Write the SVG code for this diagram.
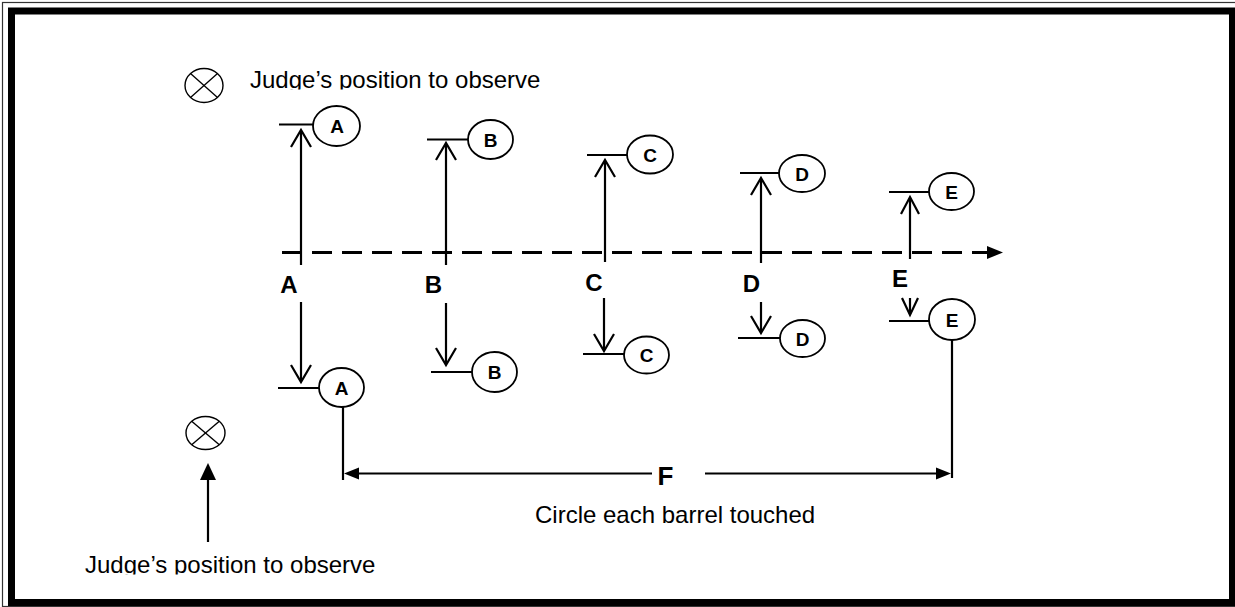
<svg xmlns="http://www.w3.org/2000/svg" width="1235" height="607" viewBox="0 0 1235 607">
<style>
.ln{stroke:#000;stroke-width:2.2;fill:none}
.tk{stroke:#000;stroke-width:2;fill:none}
.bar{fill:#fff;stroke:#000;stroke-width:1.8}
.bl{font-family:"Liberation Sans",Arial,sans-serif;font-weight:bold;font-size:19px;text-anchor:middle}
.lab{font-family:"Liberation Sans",Arial,sans-serif;font-weight:bold;font-size:24px;text-anchor:middle}
.txt{font-family:"Liberation Sans",Arial,sans-serif;font-size:24px}
.judge{fill:#fff;stroke:#000;stroke-width:1.4}
</style>
<defs>
<clipPath id="clipTop"><rect x="200" y="50" width="400" height="39.5"/></clipPath>
<clipPath id="clipBot"><rect x="50" y="540" width="400" height="34.5"/></clipPath>
</defs>
<rect width="1235" height="607" fill="#fff"/>
<g id="border">
<rect x="2.5" y="2.5" width="1240" height="604" fill="none" stroke="#333" stroke-width="1.2"/>
<rect x="11.5" y="11" width="1221" height="591.5" fill="none" stroke="#000" stroke-width="7"/>
</g>
<g id="connectors">
<line x1="282" y1="252.5" x2="988" y2="252.5" stroke="#000" stroke-width="3" stroke-dasharray="20 10"/>
<polygon points="987,246 1003,252.5 987,259" fill="#000"/>
<!-- A -->
<line class="ln" x1="301" y1="265" x2="301" y2="131"/>
<polyline class="ln" points="291,147 301,130 311,147"/>
<line class="ln" x1="301" y1="302" x2="301" y2="381"/>
<polyline class="ln" points="291,365 301,382 311,365"/>
<!-- B -->
<line class="ln" x1="446" y1="265" x2="446" y2="144"/>
<polyline class="ln" points="436,160 446,143 456,160"/>
<line class="ln" x1="446" y1="303" x2="446" y2="364"/>
<polyline class="ln" points="436,348 446,365 456,348"/>
<!-- C -->
<line class="ln" x1="605" y1="262" x2="605" y2="161"/>
<polyline class="ln" points="595,177 605,160 615,177"/>
<line class="ln" x1="604" y1="298" x2="604" y2="350"/>
<polyline class="ln" points="594,334 604,351 614,334"/>
<!-- D -->
<line class="ln" x1="761" y1="263" x2="761" y2="179"/>
<polyline class="ln" points="751,195 761,178 771,195"/>
<line class="ln" x1="761" y1="302" x2="761" y2="332"/>
<polyline class="ln" points="751,316 761,333 771,316"/>
<!-- E -->
<line class="ln" x1="910" y1="259" x2="910" y2="198"/>
<polyline class="ln" points="901,214 910,197 919,214"/>
<line class="ln" x1="910" y1="298" x2="910" y2="314"/>
<polyline class="ln" points="902,298 910,315 918,298"/>
<!-- F -->
<line class="ln" x1="343" y1="407" x2="343" y2="480"/>
<line class="ln" x1="952" y1="340" x2="952" y2="478"/>
<line class="ln" x1="356" y1="473.5" x2="652" y2="473.5"/>
<polygon points="344,473.5 359,467.5 359,479.5" fill="#000"/>
<line class="ln" x1="705" y1="473.5" x2="938" y2="473.5"/>
<polygon points="951,473.5 936,467.5 936,479.5" fill="#000"/>
<!-- judge arrow -->
<line class="ln" x1="208" y1="542" x2="208" y2="478"/>
<polygon points="208,463 200,480 216,480" fill="#000"/>
</g>
<g id="barrelA-top"><line class="tk" x1="279" y1="124.5" x2="313" y2="124.5"/><ellipse class="bar" cx="336.5" cy="126" rx="23.5" ry="20"/><text class="bl" x="337" y="133">A</text></g>
<g id="barrelA-bot"><line class="tk" x1="278" y1="388" x2="319" y2="388"/><ellipse class="bar" cx="341.5" cy="387.5" rx="22.5" ry="19.5"/><text class="bl" x="341.5" y="394.5">A</text></g>
<g id="barrelB-top"><line class="tk" x1="427" y1="139.5" x2="468" y2="139.5"/><ellipse class="bar" cx="490.5" cy="139.5" rx="22.5" ry="19.5"/><text class="bl" x="490.5" y="146.5">B</text></g>
<g id="barrelB-bot"><line class="tk" x1="431" y1="372" x2="472" y2="372"/><ellipse class="bar" cx="494.5" cy="372" rx="22.5" ry="20"/><text class="bl" x="494.5" y="379">B</text></g>
<g id="barrelC-top"><line class="tk" x1="587" y1="155" x2="627" y2="155"/><ellipse class="bar" cx="650" cy="154.5" rx="23" ry="19"/><text class="bl" x="650" y="161.5">C</text></g>
<g id="barrelC-bot"><line class="tk" x1="583" y1="354" x2="624" y2="354"/><ellipse class="bar" cx="646.5" cy="355" rx="22.5" ry="18.5"/><text class="bl" x="646.5" y="362">C</text></g>
<g id="barrelD-top"><line class="tk" x1="740" y1="173" x2="779" y2="173"/><ellipse class="bar" cx="802" cy="173.5" rx="23" ry="18.5"/><text class="bl" x="802" y="180.5">D</text></g>
<g id="barrelD-bot"><line class="tk" x1="738" y1="338" x2="780" y2="338"/><ellipse class="bar" cx="802.5" cy="338.5" rx="22.5" ry="18.5"/><text class="bl" x="802.5" y="345.5">D</text></g>
<g id="barrelE-top"><line class="tk" x1="889" y1="192" x2="929" y2="192"/><ellipse class="bar" cx="951.5" cy="191.5" rx="22.5" ry="18.5"/><text class="bl" x="951.5" y="198.5">E</text></g>
<g id="barrelE-bot"><line class="tk" x1="889" y1="321" x2="929" y2="321"/><ellipse class="bar" cx="952" cy="319.5" rx="23" ry="20.5"/><text class="bl" x="952" y="326.5">E</text></g>
<g id="labels">
<text class="lab" x="289" y="293">A</text>
<text class="lab" x="433.5" y="293">B</text>
<text class="lab" x="594" y="290.5">C</text>
<text class="lab" x="751.5" y="292">D</text>
<text class="lab" x="900" y="287">E</text>
<text class="lab" x="665.5" y="485" style="font-size:26px">F</text>
</g>
<g id="judge-top">
<ellipse class="judge" cx="204" cy="85.5" rx="19" ry="17"/>
<line class="judge" x1="190.5" y1="73.5" x2="217.5" y2="97.5"/>
<line class="judge" x1="217.5" y1="73.5" x2="190.5" y2="97.5"/>
<text class="txt" x="250" y="88" clip-path="url(#clipTop)">Judge’s position to observe</text>
</g>
<g id="judge-bottom">
<ellipse class="judge" cx="205.5" cy="433" rx="19.5" ry="16.5"/>
<line class="judge" x1="191.7" y1="421.3" x2="219.3" y2="444.7"/>
<line class="judge" x1="219.3" y1="421.3" x2="191.7" y2="444.7"/>
<text class="txt" x="85" y="573" clip-path="url(#clipBot)">Judge’s position to observe</text>
</g>
<g id="caption">
<text class="txt" x="535" y="523">Circle each barrel touched</text>
</g>
</svg>
